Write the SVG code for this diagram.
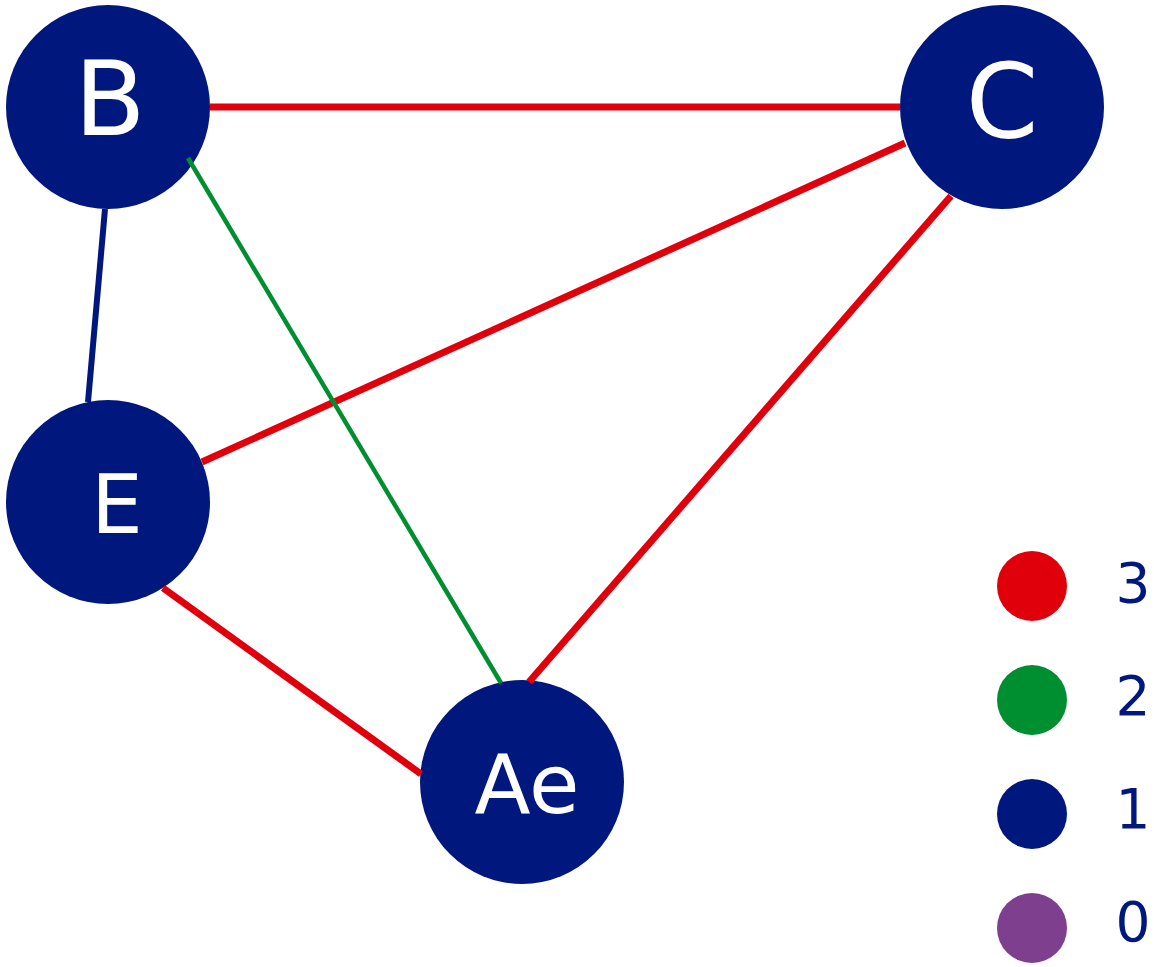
<svg xmlns="http://www.w3.org/2000/svg" width="1154" height="967" viewBox="0 0 1154 967">
<style>
.node{fill:#00187e}
.lbl{fill:#ffffff;font-family:"DejaVu Sans",Verdana,sans-serif;text-anchor:middle}
.red{stroke:#e0000c;stroke-width:7;fill:none}
.green{stroke:#008f30;stroke-width:4.5;fill:none}
.blue{stroke:#00187e;stroke-width:6;fill:none}
.leg{font-family:"DejaVu Sans",Verdana,sans-serif;font-size:55px;fill:#00187e;text-anchor:middle}
</style>
<rect width="1154" height="967" fill="#ffffff"/>
<g id="node-B"><circle class="node" cx="108" cy="107" r="102"/><text class="lbl" x="110" y="135" font-size="104">B</text></g>
<g id="node-C"><circle class="node" cx="1002" cy="107" r="102"/><text class="lbl" x="1002" y="138" font-size="104">C</text></g>
<g id="node-E"><circle class="node" cx="108" cy="502" r="102"/><text class="lbl" x="117" y="533" font-size="82">E</text></g>
<g id="node-Ae"><circle class="node" cx="522" cy="782" r="102"/><text class="lbl" x="527" y="813" font-size="82">Ae</text></g>
<g id="connectors">
<line class="red" x1="210" y1="107" x2="900" y2="107"/>
<line class="red" x1="905" y1="143" x2="202" y2="462"/>
<line class="red" x1="951" y1="196" x2="529" y2="682"/>
<line class="red" x1="163" y1="588" x2="421" y2="774"/>
<line class="blue" x1="105" y1="209" x2="88" y2="402"/>
<line class="green" x1="188" y1="158" x2="501" y2="683"/>
</g>
<g id="legend">
<circle cx="1032" cy="586" r="35" fill="#e0000c"/><text class="leg" x="1133" y="602">3</text>
<circle cx="1032" cy="700" r="35" fill="#008f30"/><text class="leg" x="1133" y="715">2</text>
<circle cx="1032" cy="814" r="35" fill="#00187e"/><text class="leg" x="1133" y="828">1</text>
<circle cx="1032" cy="928" r="35" fill="#7f3f8f"/><text class="leg" x="1133" y="941">0</text>
</g>
</svg>
